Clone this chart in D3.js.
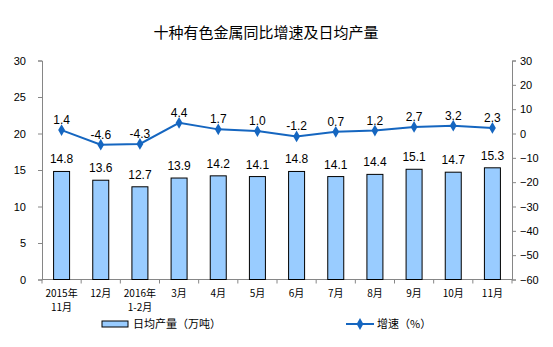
<!DOCTYPE html>
<html><head><meta charset="utf-8">
<script src="https://cdn.jsdelivr.net/npm/d3@7"></script>
<style>
body{margin:0;background:#fff;}
text{font-family:"Liberation Sans",Arial,sans-serif;}
</style></head>
<body>
<svg id="c" width="553" height="347"></svg>
<script>
const categories = [["2015年","11月"],["12月"],["2016年","1-2月"],["3月"],["4月"],["5月"],["6月"],["7月"],["8月"],["9月"],["10月"],["11月"]];
const output = [14.8,13.6,12.7,13.9,14.2,14.1,14.8,14.1,14.4,15.1,14.7,15.3];
const growth = [1.4,-4.6,-4.3,4.4,1.7,1.0,-1.2,0.7,1.2,2.7,3.2,2.3];
const leftTicks = [0,5,10,15,20,25,30];
const rightTicks = [-60,-50,-40,-30,-20,-10,0,10,20,30];

const svg = d3.select("#c");
const L = 42, R = 512, T = 60.5, B = 279.5;
const x = d3.scaleBand().domain(d3.range(categories.length)).range([L, R]);
const yL = d3.scaleLinear().domain([0,30]).range([B,T]);
const yR = d3.scaleLinear().domain([-60,30]).range([B,T]);
const axisColor = "#868686";

svg.append("text").attr("x",266).attr("y",38).attr("text-anchor","middle")
  .style("font-family","'Noto Sans CJK SC',sans-serif").style("font-size","15px").attr("fill","#000")
  .text("十种有色金属同比增速及日均产量");

// left axis
const gl = svg.append("g").attr("transform",`translate(${L},0)`)
  .call(d3.axisLeft(yL).tickValues(leftTicks).tickSize(4).tickPadding(12));
gl.selectAll("line,path").attr("stroke",axisColor);
gl.selectAll("text").style("font-size","11px").attr("fill","#000");

// right axis
const gr = svg.append("g").attr("transform",`translate(${R},0)`)
  .call(d3.axisRight(yR).tickValues(rightTicks).tickSize(4).tickPadding(4).tickFormat(d3.format("d")));
gr.selectAll("line,path").attr("stroke",axisColor);
gr.selectAll("text").style("font-size","11px").attr("fill","#000");

// x axis
svg.append("line").attr("x1",L).attr("x2",R).attr("y1",B).attr("y2",B).attr("stroke",axisColor);
d3.range(categories.length+1).forEach(i=>{
  const xx = L + i*x.step();
  svg.append("line").attr("x1",xx).attr("x2",xx).attr("y1",B).attr("y2",B+4).attr("stroke",axisColor);
});
categories.forEach((c,i)=>{
  c.forEach((s,j)=>svg.append("text").attr("x",x(i)+x.bandwidth()/2).attr("y",297+j*14)
    .attr("text-anchor","middle")
    .style("font-family","'Noto Sans CJK SC',sans-serif").style("font-size","10px").attr("fill","#000").text(s));
});

// bars
const bw = 16;
svg.selectAll("rect.bar").data(output).enter().append("rect")
  .attr("x",(d,i)=>x(i)+x.bandwidth()/2-bw/2).attr("width",bw)
  .attr("y",d=>yL(d)).attr("height",d=>B-yL(d))
  .attr("fill","#99CCFF").attr("stroke","#000").attr("stroke-width",1);
svg.selectAll("text.bl").data(output).enter().append("text")
  .attr("x",(d,i)=>x(i)+x.bandwidth()/2).attr("y",d=>yL(d)-8).attr("text-anchor","middle")
  .style("font-size","12px").attr("fill","#000").text(d=>d.toFixed(1));

// line
const lc = "#1566C0";
const line = d3.line().x((d,i)=>x(i)+x.bandwidth()/2).y(d=>yR(d));
svg.append("path").datum(growth).attr("d",line).attr("fill","none").attr("stroke",lc).attr("stroke-width",2);
svg.selectAll("path.mk").data(growth).enter().append("path")
  .attr("d",d3.symbol().type(d3.symbolDiamond).size(40))
  .attr("transform",(d,i)=>`translate(${x(i)+x.bandwidth()/2},${yR(d)})`).attr("fill",lc);
svg.selectAll("text.ll").data(growth).enter().append("text")
  .attr("x",(d,i)=>x(i)+x.bandwidth()/2).attr("y",d=>yR(d)-6).attr("text-anchor","middle")
  .style("font-size","12px").attr("fill","#000").text(d=>d.toFixed(1));

// legend
svg.append("rect").attr("x",102).attr("y",321).attr("width",26).attr("height",6)
  .attr("fill","#99CCFF").attr("stroke","#000");
svg.append("text").attr("x",133).attr("y",328).style("font-family","'Noto Sans CJK SC',sans-serif")
  .style("font-size","11px").attr("fill","#000").text("日均产量（万吨）");
svg.append("line").attr("x1",346).attr("x2",374).attr("y1",324).attr("y2",324).attr("stroke",lc).attr("stroke-width",2);
svg.append("path").attr("d",d3.symbol().type(d3.symbolDiamond).size(40)).attr("transform","translate(360,324)").attr("fill",lc);
svg.append("text").attr("x",377).attr("y",328).style("font-family","'Noto Sans CJK SC',sans-serif")
  .style("font-size","11px").attr("fill","#000").text("增速（%）");
</script>
</body></html>
